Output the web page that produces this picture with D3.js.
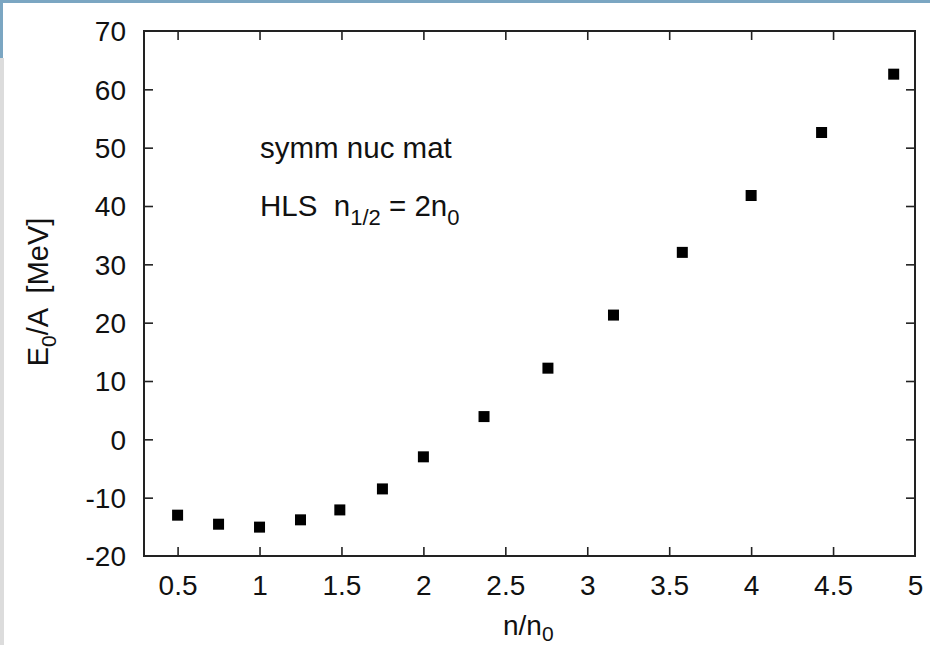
<!DOCTYPE html>
<html><head><meta charset="utf-8">
<script src="https://cdn.jsdelivr.net/npm/d3@7"></script>
<style>
html,body{margin:0;padding:0;background:#fff;}
svg{display:block;font-family:"Liberation Sans",Arial,sans-serif;}
text{white-space:pre;}
</style></head>
<body>
<svg id="c" width="930" height="645"></svg>
<script>
// data
const density = [0.5, 0.75, 1.0, 1.25, 1.49, 1.75, 2.0, 2.37, 2.76, 3.16, 3.58, 4.0, 4.43, 4.87];
const energy  = [-13.0, -14.55, -15.05, -13.8, -12.1, -8.5, -3.0, 3.9, 12.2, 21.3, 32.05, 41.8, 52.6, 62.6];
const xTicks = [0.5, 1, 1.5, 2, 2.5, 3, 3.5, 4, 4.5, 5];
const yTicks = [-20, -10, 0, 10, 20, 30, 40, 50, 60, 70];

const svg = d3.select("#c");
const L = 144, R = 915, T = 31, B = 556;
const x = d3.scaleLinear().domain([0.295, 5]).range([L, R]);
const y = d3.scaleLinear().domain([-20, 70]).range([B, T]);
const FS = "28px", SUB = "21px", AFS = "29.5px", ASUB = "22px";

// page decorations
svg.append("rect").attr("x",0).attr("y",0).attr("width",930).attr("height",3).attr("fill","#7ba6c2");
svg.append("rect").attr("x",0).attr("y",0).attr("width",3).attr("height",58).attr("fill","#7ba6c2");
svg.append("rect").attr("x",0).attr("y",58).attr("width",4).attr("height",587).attr("fill","#dcdcdc");

const fmt = d => String(d);
const tl = 9;
const gb = svg.append("g").attr("transform",`translate(0,${B})`)
  .call(d3.axisBottom(x).tickValues(xTicks).tickFormat(fmt).tickSizeInner(-tl).tickSizeOuter(0));
const gt = svg.append("g").attr("transform",`translate(0,${T})`)
  .call(d3.axisTop(x).tickValues(xTicks).tickFormat("").tickSizeInner(-tl).tickSizeOuter(0));
const gl = svg.append("g").attr("transform",`translate(${L},0)`)
  .call(d3.axisLeft(y).tickValues(yTicks).tickFormat(fmt).tickSizeInner(-tl).tickSizeOuter(0));
const gr = svg.append("g").attr("transform",`translate(${R},0)`)
  .call(d3.axisRight(y).tickValues(yTicks).tickFormat("").tickSizeInner(-tl).tickSizeOuter(0));

[gb,gt,gl,gr].forEach(g=>{
  g.select(".domain").remove();
  g.attr("font-size",null).attr("font-family",null);
  g.selectAll(".tick line").attr("stroke","#222").attr("stroke-width",1.6);
  g.selectAll(".tick text").attr("fill","#111").style("font-size",FS);
});
gb.selectAll(".tick").filter(d=>d===5).select("line").remove();
gt.selectAll(".tick").filter(d=>d===5).select("line").remove();
gl.selectAll(".tick").filter(d=>d===-20||d===70).select("line").remove();
gr.selectAll(".tick").filter(d=>d===-20||d===70).select("line").remove();
gl.selectAll(".tick text").attr("x",126-L).attr("dy","0.35em");
gb.selectAll(".tick text").attr("y",595-B).attr("dy",0);

// frame
svg.append("rect").attr("x",L).attr("y",T).attr("width",R-L).attr("height",B-T)
  .attr("fill","none").attr("stroke","#222").attr("stroke-width",2);

// points
const s = 11;
svg.append("g").selectAll("rect").data(density.map((d,i)=>[d,energy[i]])).join("rect")
  .attr("x",d=>x(d[0])-s/2).attr("y",d=>y(d[1])-s/2).attr("width",s).attr("height",s).attr("fill","#000");

// annotations
const txt = svg.append("g").style("font-size",AFS).attr("fill","#111");
txt.append("text").attr("x",260).attr("y",158).text("symm nuc mat");
const t2 = txt.append("text").attr("x",260).attr("y",216);
t2.append("tspan").text("HLS  n");
t2.append("tspan").attr("dy",9).style("font-size",ASUB).text("1/2");
t2.append("tspan").attr("dy",-9).text(" = 2n");
t2.append("tspan").attr("dy",9).style("font-size",ASUB).text("0");

// x title
const xt = svg.append("text").attr("x",503).attr("y",635).style("font-size",FS).attr("fill","#111");
xt.append("tspan").text("n/n");
xt.append("tspan").attr("dy",6).style("font-size",SUB).text("0");

// y title
const yt = svg.append("text").attr("transform","translate(48,292) rotate(-90)").attr("text-anchor","middle")
  .style("font-size","29px").attr("fill","#111");
yt.append("tspan").text("E");
yt.append("tspan").attr("dy",8).style("font-size",SUB).text("0");
yt.append("tspan").attr("dy",-8).text("/A  [MeV]");
</script>
</body></html>
